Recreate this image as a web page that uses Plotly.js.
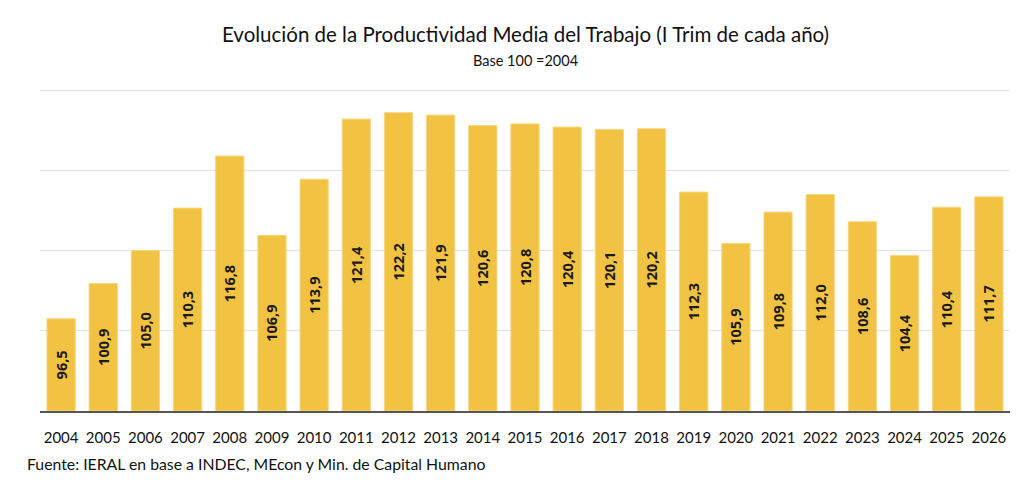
<!DOCTYPE html>
<html><head><meta charset="utf-8">
<script src="https://cdn.plot.ly/plotly-3.0.1.min.js"></script>
<style>html,body{margin:0;padding:0;background:#fff;}#chart{width:1024px;height:486px;}</style>
</head><body><div id="chart"></div>
<script>
const years = ['2004','2005','2006','2007','2008','2009','2010','2011','2012','2013','2014','2015','2016','2017','2018','2019','2020','2021','2022','2023','2024','2025','2026'];
const productividad = [96.5,100.9,105.0,110.3,116.8,106.9,113.9,121.4,122.2,121.9,120.6,120.8,120.4,120.1,120.2,112.3,105.9,109.8,112.0,108.6,104.4,110.4,111.7];
const labels = productividad.map(v => v.toFixed(1).replace('.', ','));
const axisBase = 85;

const FONT = 'Lato, "Open Sans", sans-serif';
const trace = {
  type: 'bar', x: years, base: axisBase, y: productividad.map(v => v - axisBase), text: labels,
  textposition: 'inside', insidetextanchor: 'middle', textangle: -90,
  texttemplate: '<b>%{text}</b>',
  insidetextfont: {family: '"Open Sans", sans-serif', size: 14.5, color: '#1a1a1a'},
  marker: {color: '#F2C243', line: {color: '#F7D77F', width: 1}},
  hoverinfo: 'none'
};
const layout = {
  width: 1024, height: 486,
  margin: {l: 40, r: 14, t: 89, b: 75},
  paper_bgcolor: '#fff', plot_bgcolor: '#fff',
  font: {family: FONT, color: '#111'},
  showlegend: false, bargap: 0.33,
  xaxis: {type: 'category', showline: true, linecolor: '#555', linewidth: 1.5,
          ticks: '', tickfont: {size: 15, color: '#111'}, showgrid: false, ticklabelstandoff: 12},
  yaxis: {range: [85, 125.15], tick0: 5, dtick: 10, showgrid: true, gridcolor: '#e2e2e2',
          gridwidth: 1.2, showticklabels: false, zeroline: false, showline: false, ticks: ''},
  annotations: [
    {text: 'Evolución de la Productividad Media del Trabajo (I Trim de cada año)', xref: 'paper', yref: 'paper',
     x: 0.5, xanchor: 'center', y: 1, yshift: 55, yanchor: 'middle', showarrow: false,
     font: {size: 20.5, color: '#111', family: FONT}},
    {text: 'Base 100 =2004', xref: 'paper', yref: 'paper',
     x: 0.5, xanchor: 'center', y: 1, yshift: 29, yanchor: 'middle', showarrow: false,
     font: {size: 14.5, color: '#111', family: FONT}},
    {text: 'Fuente: IERAL en base a INDEC, MEcon y Min. de Capital Humano', xref: 'paper', yref: 'paper',
     x: 0, xanchor: 'left', xshift: -15, y: 0, yshift: -52, yanchor: 'middle', showarrow: false,
     font: {size: 15.8, color: '#111', family: FONT}}
  ]
};
Plotly.newPlot('chart', [trace], layout, {displayModeBar: false, staticPlot: true});
</script></body></html>
